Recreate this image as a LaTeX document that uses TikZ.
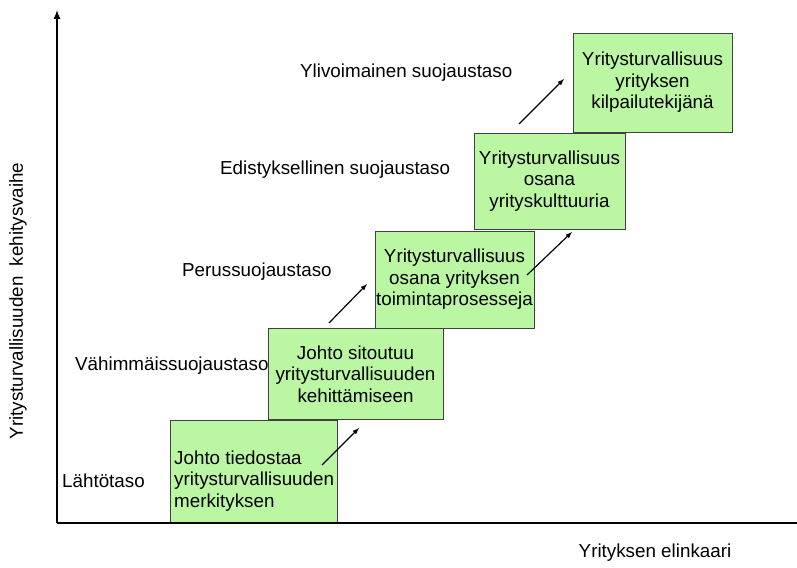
\documentclass[tikz,border=0pt]{standalone}
\usepackage{fontspec}
\setmainfont{Liberation Sans}
\usepackage{tikz}

\definecolor{boxgreen}{RGB}{187,247,162}
\tikzset{
  phase/.style={draw=black!75, line width=0.9pt, fill=boxgreen, align=center, inner sep=0pt},
  level/.style={anchor=west, inner sep=0pt},
  step arrow/.style={->, line width=1.2pt},
}

\begin{document}
\begin{tikzpicture}[x=1pt,y=-1pt,font=\fontsize{18.8}{21.5}\selectfont,>=latex]
\useasboundingbox (0,0) rectangle (797,567);

% axes
\coordinate (origo) at (57,523);
\coordinate (ytop) at (57,10);
\coordinate (xend) at (797,523);
\draw[line width=2pt,->] (origo) -- (ytop);
\node[rotate=90] (ylab) at (18,301) {Yritysturvallisuuden\ \ kehitysvaihe};
\node (xlab) at (655,553) {Yrityksen elinkaari};

% boxes
\node[phase, minimum width=167, minimum height=102] (b1) at (253.5,471) {};
\node[align=left, anchor=west, inner sep=0pt] (t1) at (174,481)
  {Johto tiedostaa\\yritysturvallisuuden\\merkityksen};
\node[phase, minimum width=175, minimum height=91] (b2) at (355.5,374)
  {Johto sitoutuu\\yritysturvallisuuden\\kehittämiseen};
\node[phase, minimum width=159, minimum height=97] (b3) at (454.5,279.5)
  {Yritysturvallisuus\\osana yrityksen\\toimintaprosesseja};
\node[phase, minimum width=151, minimum height=96] (b4) at (549.5,181)
  {Yritysturvallisuus\\osana\\yrityskulttuuria};
\node[phase, minimum width=159, minimum height=99] (b5) at (652.5,82.5)
  {Yritysturvallisuus\\yrityksen\\kilpailutekijänä};

\draw[line width=2pt] (origo) -- (xend);

% levels
\node[level] (l1) at (62,481) {Lähtötaso};
\node[level] (l2) at (75,366) {Vähimmäissuojaustaso};
\node[level] (l3) at (182,272) {Perussuojaustaso};
\node[level] (l4) at (220,170) {Edistyksellinen suojaustaso};
\node[level] (l5) at (300,73) {Ylivoimainen suojaustaso};

% arrows between steps
\coordinate (a1s) at (322,465); \coordinate (a1e) at (359,428);
\coordinate (a2s) at (329,323); \coordinate (a2e) at (367,284);
\coordinate (a3s) at (527,275); \coordinate (a3e) at (572,232);
\coordinate (a4s) at (519,124); \coordinate (a4e) at (564,79);
\draw[step arrow] (a1s) -- (a1e);
\draw[step arrow] (a2s) -- (a2e);
\draw[step arrow] (a3s) -- (a3e);
\draw[step arrow] (a4s) -- (a4e);
\end{tikzpicture}
\end{document}
